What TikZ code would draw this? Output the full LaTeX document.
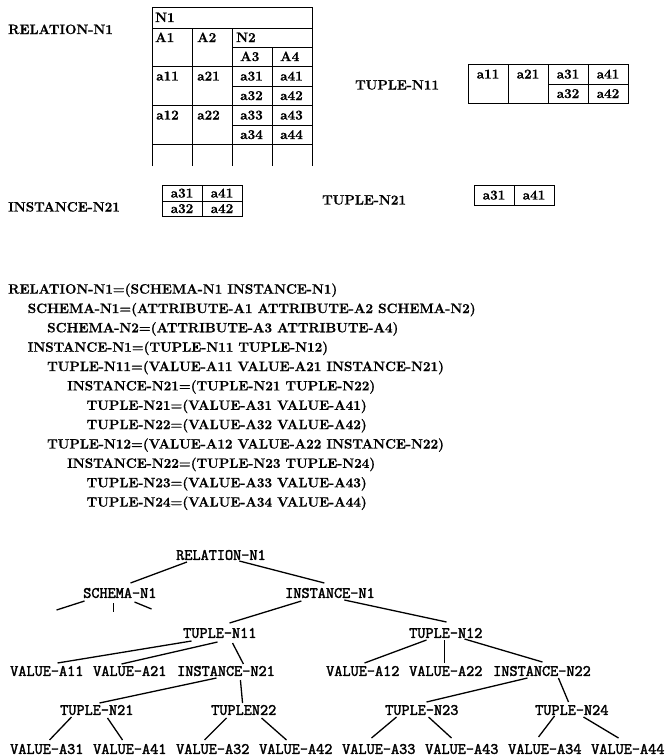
\documentclass[tikz,border=0pt]{standalone}
\usepackage{fontspec}
\setmainfont{Latin Modern Roman}[BoldFeatures={FakeBold=0.9}]
\newfontfamily\treefont{Latin Modern Mono}[FakeBold=2.2]
\usetikzlibrary{calc}
\newcommand\treeline[6]{\draw[treeedge] ($(#1)+(#2,#3)$) -- ($(#4)+(#5,#6)$);}
\begin{document}
\begin{tikzpicture}[x=1pt,y=-1pt,
  rm/.style={inner sep=0pt,anchor=base west,font=\fontsize{13.5}{16}\selectfont\bfseries},
  cellc/.style={inner sep=0pt,anchor=base,font=\fontsize{13.5}{16}\selectfont\bfseries},
  cellw/.style={inner sep=0pt,anchor=base west,font=\fontsize{13.5}{16}\selectfont\bfseries},
  tr/.style={inner sep=0pt,anchor=west,font=\fontsize{15.8}{18}\selectfont\treefont},
  gridline/.style={line width=0.9pt},
  treeedge/.style={line width=1.3pt}]
\useasboundingbox (0,0) rectangle (665,756);

% ---------- RELATION-N1 table ----------
\node[rm] (lrel) at (8,34) {RELATION-N1};
\draw[gridline] (152,166) -- (152,7) -- (312,7) -- (312,166);
\draw[gridline] (152,28) -- (312,28);
\draw[gridline] (232,47) -- (312,47);
\draw[gridline] (152,66) -- (312,66);
\draw[gridline] (232,86) -- (312,86);
\draw[gridline] (152,105) -- (312,105);
\draw[gridline] (232,125) -- (312,125);
\draw[gridline] (152,144) -- (312,144);
\draw[gridline] (192,28) -- (192,166);
\draw[gridline] (232,28) -- (232,166);
\draw[gridline] (272,47) -- (272,166);
\node[cellw] (hN1) at (155,22) {N1};
\node[cellw] (hA1) at (155,42) {A1};
\node[cellw] (hA2) at (197,42) {A2};
\node[cellw] (hN2) at (236,42) {N2};
\node[cellw] (hA3) at (240,61) {A3};
\node[cellw] (hA4) at (280,61) {A4};
\node[cellw] (c11) at (156,80.5) {a11};
\node[cellw] (c21) at (197,80.5) {a21};
\node[cellw] (c31) at (240,80.5) {a31};
\node[cellw] (c41) at (280,80.5) {a41};
\node[cellw] (c32) at (240,100) {a32};
\node[cellw] (c42) at (280,100) {a42};
\node[cellw] (c12) at (156,119.5) {a12};
\node[cellw] (c22) at (197,119.5) {a22};
\node[cellw] (c33) at (240,119.5) {a33};
\node[cellw] (c43) at (280,119.5) {a43};
\node[cellw] (c34) at (240,139) {a34};
\node[cellw] (c44) at (280,139) {a44};

% ---------- TUPLE-N11 ----------
\node[rm] (lt11) at (355,89.5) {TUPLE-N11};
\draw[gridline] (468,64) rectangle (628,103);
\draw[gridline] (508,64) -- (508,103);
\draw[gridline] (548,64) -- (548,103);
\draw[gridline] (588,64) -- (588,103);
\draw[gridline] (548,84) -- (628,84);
\node[cellc] (u11) at (488,78.5) {a11};
\node[cellc] (u21) at (528,78.5) {a21};
\node[cellc] (u31) at (568,78.5) {a31};
\node[cellc] (u41) at (608,78.5) {a41};
\node[cellc] (u32) at (568,98) {a32};
\node[cellc] (u42) at (608,98) {a42};

% ---------- INSTANCE-N21 ----------
\node[rm] (li21) at (8,211.5) {INSTANCE-N21};
\draw[gridline] (162,185) rectangle (242,216);
\draw[gridline] (202,185) -- (202,216);
\draw[gridline] (162,201) -- (242,201);
\node[cellc] (v31) at (182,197.5) {a31};
\node[cellc] (v41) at (222,197.5) {a41};
\node[cellc] (v32) at (182,213) {a32};
\node[cellc] (v42) at (222,213) {a42};

% ---------- TUPLE-N21 ----------
\node[rm] (lt21) at (322,204.5) {TUPLE-N21};
\draw[gridline] (474,185) rectangle (554,205);
\draw[gridline] (514,185) -- (514,205);
\node[cellc] (w31) at (494,199.5) {a31};
\node[cellc] (w41) at (534,199.5) {a41};

% ---------- text block ----------
\node[rm] (s1)  at (8,293.6)    {RELATION-N1=(SCHEMA-N1 INSTANCE-N1)};
\node[rm] (s2)  at (27.5,313.0) {SCHEMA-N1=(ATTRIBUTE-A1 ATTRIBUTE-A2 SCHEMA-N2)};
\node[rm] (s3)  at (47,332.3)   {SCHEMA-N2=(ATTRIBUTE-A3 ATTRIBUTE-A4)};
\node[rm] (s4)  at (27.5,351.7) {INSTANCE-N1=(TUPLE-N11 TUPLE-N12)};
\node[rm] (s5)  at (47,371.0)   {TUPLE-N11=(VALUE-A11 VALUE-A21 INSTANCE-N21)};
\node[rm] (s6)  at (67,390.4)   {INSTANCE-N21=(TUPLE-N21 TUPLE-N22)};
\node[rm] (s7)  at (86.5,409.8) {TUPLE-N21=(VALUE-A31 VALUE-A41)};
\node[rm] (s8)  at (86.5,429.1) {TUPLE-N22=(VALUE-A32 VALUE-A42)};
\node[rm] (s9)  at (47,448.5)   {TUPLE-N12=(VALUE-A12 VALUE-A22 INSTANCE-N22)};
\node[rm] (s10) at (67,467.8)   {INSTANCE-N22=(TUPLE-N23 TUPLE-N24)};
\node[rm] (s11) at (86.5,487.2) {TUPLE-N23=(VALUE-A33 VALUE-A43)};
\node[rm] (s12) at (86.5,506.6) {TUPLE-N24=(VALUE-A34 VALUE-A44)};

% ---------- tree ----------
\node[tr] (rel) at (176,555) {RELATION-N1};
\node[tr] (sch) at (83,593) {SCHEMA-N1};
\node[tr] (ins) at (285,593) {INSTANCE-N1};
\node[tr] (t11) at (183,633) {TUPLE-N11};
\node[tr] (t12) at (409,633) {TUPLE-N12};
\node[tr] (a11) at (10,671) {VALUE-A11};
\node[tr] (a21) at (93,671) {VALUE-A21};
\node[tr] (i21) at (177,671) {INSTANCE-N21};
\node[tr] (a12) at (326,671) {VALUE-A12};
\node[tr] (a22) at (409,671) {VALUE-A22};
\node[tr] (i22) at (493,671) {INSTANCE-N22};
\node[tr] (t21) at (60,710) {TUPLE-N21};
\node[tr] (t22) at (211,710) {TUPLEN22};
\node[tr] (t23) at (385,710) {TUPLE-N23};
\node[tr] (t24) at (535,710) {TUPLE-N24};
\node[tr] (a31) at (10,749) {VALUE-A31};
\node[tr] (a41) at (93,749) {VALUE-A41};
\node[tr] (a32) at (176,749) {VALUE-A32};
\node[tr] (a42) at (259,749) {VALUE-A42};
\node[tr] (a33) at (342,749) {VALUE-A33};
\node[tr] (a43) at (425,749) {VALUE-A43};
\node[tr] (a34) at (508,749) {VALUE-A34};
\node[tr] (a44) at (591,749) {VALUE-A44};

\coordinate (sl) at ($(sch)+(-63.3,17)$);
\coordinate (sm) at ($(sch)+(-6.3,19)$);
\coordinate (sr) at ($(sch)+(31.7,16)$);

\treeline{rel}{-34}{7}{sch}{10.7}{-10}
\treeline{rel}{18.4}{6}{ins}{-5.6}{-10}
\draw[treeedge] ($(sch)+(-35.3,8)$) -- (sl);
\draw[treeedge] ($(sch)+(-6.3,10)$) -- (sm);
\draw[treeedge] ($(sch)+(14.7,9)$) -- (sr);
\treeline{ins}{-28.6}{8}{t11}{9.7}{-10}
\treeline{ins}{14.4}{7}{t12}{0.7}{-11}
\treeline{t11}{-28.3}{8}{a11}{10.7}{-8}
\treeline{t11}{-2.3}{9}{a21}{-8.3}{-7}
\treeline{t11}{12.7}{10}{i21}{17.4}{-7}
\treeline{t12}{-19.3}{7}{a12}{1.7}{-8}
\treeline{t12}{-1.3}{7}{a22}{-1.3}{-8}
\treeline{t12}{18.7}{6}{i22}{0.4}{-9}
\treeline{i21}{-9.6}{7}{t21}{2.7}{-7}
\treeline{i21}{14.4}{9}{t22}{-1.2}{-7}
\treeline{i22}{-14.6}{7}{t23}{4.7}{-8}
\treeline{i22}{16.4}{7}{t24}{-3.3}{-8}
\treeline{t21}{-25.3}{7}{a31}{2.7}{-9}
\treeline{t21}{10.7}{8}{a41}{-7.3}{-9}
\treeline{t22}{-17.2}{8}{a32}{-8.3}{-9}
\treeline{t22}{17.8}{8}{a42}{-9.3}{-9}
\treeline{t23}{-25.3}{7}{a33}{-7.3}{-11}
\treeline{t23}{6.7}{7}{a43}{-10.3}{-11}
\treeline{t24}{-17.3}{6}{a34}{-6.3}{-12}
\treeline{t24}{11.7}{7}{a44}{-9.3}{-11}
\end{tikzpicture}
\end{document}
